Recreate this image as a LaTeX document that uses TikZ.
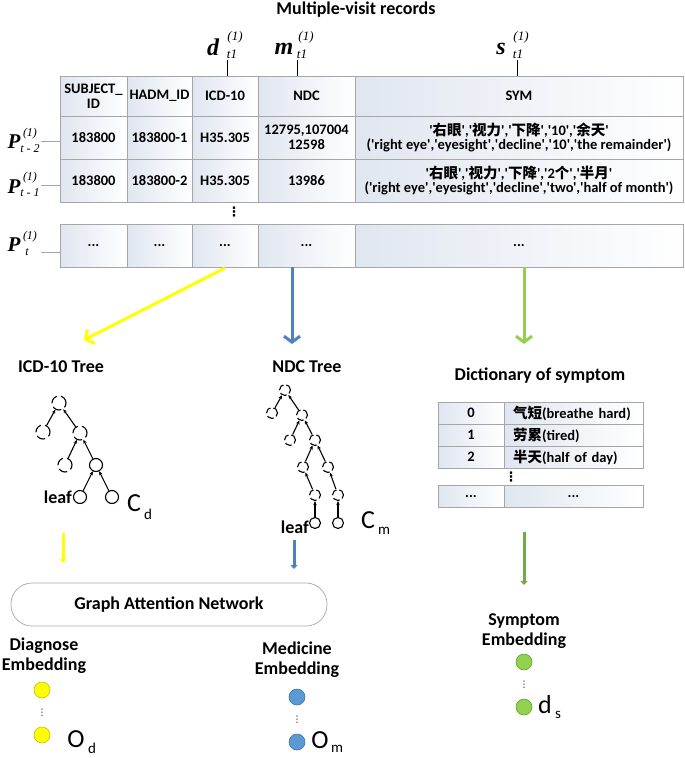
\documentclass[tikz,border=0pt]{standalone}
\usepackage{fontspec}
\setmainfont{Carlito}[Ligatures=TeXOff]
\newfontfamily\tnr{Liberation Serif}
\newfontfamily\cjk{Noto Sans CJK SC}
\newfontfamily\dejavu{DejaVu Sans}
\usetikzlibrary{arrows.meta,calc}
\definecolor{cellblue}{RGB}{224,230,240}
\definecolor{bordergray}{RGB}{166,166,166}
\definecolor{ayellow}{RGB}{255,255,0}
\definecolor{ablue}{RGB}{79,129,189}
\definecolor{agreen}{RGB}{146,208,80}
\definecolor{agreendark}{RGB}{112,173,71}
\definecolor{cyellowdraw}{RGB}{190,190,0}
\definecolor{cblue}{RGB}{91,155,213}
\definecolor{cbluedraw}{RGB}{65,113,156}
\definecolor{cgreendraw}{RGB}{100,160,50}
\newcommand\zh[1]{{\cjk #1}}
\newcommand\fs[1]{\fontsize{#1}{#1}\selectfont}
\begin{document}
\begin{tikzpicture}[x=1pt,y=-1pt,
  cell/.style={draw=bordergray,line width=0.7pt,left color=cellblue,right color=white,
     inner sep=0pt,align=center,font=\fs{14.5}\bfseries},
  title/.style={font=\fs{18}\bfseries,inner sep=0pt,align=center},
  mainvar/.style={inner sep=0pt,font=\fs{24}\tnr\bfseries\itshape},
  pvar/.style={inner sep=0pt,font=\fs{21}\tnr\bfseries\itshape},
  scr/.style={inner sep=0pt,font=\fs{13}\tnr\itshape},
  pscr/.style={inner sep=0pt,font=\fs{12}\tnr\itshape},
  dnode/.style={circle,draw,line width=1.1pt,dash pattern=on 9pt off 4pt,inner sep=0pt},
  snode/.style={circle,draw,line width=1.1pt,inner sep=0pt},
  tedge/.style={line width=1.1pt,-{Stealth[length=4pt,width=3.5pt]}},
  emb/.style={circle,inner sep=0pt,minimum size=16pt,line width=0.6pt},
  vdt/.style={inner sep=0pt,font=\fs{9}\dejavu},
  tvdt/.style={inner sep=0pt,font=\fs{13}\dejavu\bfseries},
  bigsym/.style={inner sep=0pt,font=\fs{26}},
  subsym/.style={inner sep=0pt,font=\fs{15}},
]
\useasboundingbox (0,0) rectangle (685,758);

% title
\node[title] (ttl) at (356,10) {Multiple-visit records};

% labels d m s
\node[mainvar] (dv) at (213,47) {d};
\node[scr] (dsup) at (235,37) {(1)};
\node[scr] (dsub) at (232,54) {t1};
\node[mainvar] (mv) at (284,49) {m};
\node[scr] (msup) at (306,37) {(1)};
\node[scr] (msub) at (302,54) {t1};
\node[mainvar] (sv) at (501,49) {s};
\node[scr] (ssup) at (521,37) {(1)};
\node[scr] (ssub) at (518,54) {t1};

% table header (y 76-116)
\node[cell,minimum width=67,minimum height=40] (c01) at (93.5,96) {SUBJECT\_\\ID};
\node[cell,minimum width=65,minimum height=40] (c02) at (159.5,96) {HADM\_ID};
\node[cell,minimum width=66,minimum height=40] (c03) at (225,96) {ICD-10};
\node[cell,minimum width=97,minimum height=40] (c04) at (306.5,96) {NDC};
\node[cell,minimum width=328,minimum height=40] (c05) at (519,96) {SYM};
% row 1 (116-159)
\node[cell,minimum width=67,minimum height=43] (c11) at (93.5,137.5) {183800};
\node[cell,minimum width=65,minimum height=43] (c12) at (159.5,137.5) {183800-1};
\node[cell,minimum width=66,minimum height=43] (c13) at (225,137.5) {H35.305};
\node[cell,minimum width=97,minimum height=43] (c14) at (306.5,137.5) {12795,107004\\12598};
\node[cell,minimum width=328,minimum height=43] (c15) at (519,137.5) {'\zh{右眼}','\zh{视力}','\zh{下降}','10','\zh{余天}'\\('right eye','eyesight','decline','10','the remainder')};
% row 2 (159-202)
\node[cell,minimum width=67,minimum height=43] (c21) at (93.5,180.5) {183800};
\node[cell,minimum width=65,minimum height=43] (c22) at (159.5,180.5) {183800-2};
\node[cell,minimum width=66,minimum height=43] (c23) at (225,180.5) {H35.305};
\node[cell,minimum width=97,minimum height=43] (c24) at (306.5,180.5) {13986};
\node[cell,minimum width=328,minimum height=43] (c25) at (519,180.5) {'\zh{右眼}','\zh{视力}','\zh{下降}','2\zh{个}','\zh{半月}'\\('right eye','eyesight','decline','two','half of month')};
% dots
\node[tvdt] (tdots) at (234,212) {⋮};
% last row (224-267)
\node[cell,minimum width=67,minimum height=43] (c31) at (93.5,245.5) {...};
\node[cell,minimum width=65,minimum height=43] (c32) at (159.5,245.5) {...};
\node[cell,minimum width=66,minimum height=43] (c33) at (225,245.5) {...};
\node[cell,minimum width=97,minimum height=43] (c34) at (306.5,245.5) {...};
\node[cell,minimum width=328,minimum height=43] (c35) at (519,245.5) {...};

% label connectors
\coordinate (dtop) at (227,60);
\coordinate (mtop) at (297,60);
\coordinate (stop) at (517,60);
\draw[line width=0.5pt] (c03.north -| dtop) -- (dtop);
\draw[line width=0.5pt] (c04.north -| mtop) -- (mtop);
\draw[line width=0.5pt] (c05.north -| stop) -- (stop);

% P labels
\node[pvar] (p1) at (14,142) {P};
\node[pscr] (p1sup) at (30,134) {(1)};
\node[pscr] (p1sub) at (30,149) {t - 2};
\node[pvar] (p2) at (14,187) {P};
\node[pscr] (p2sup) at (30,178) {(1)};
\node[pscr] (p2sub) at (30,193) {t - 1};
\node[pvar] (p3) at (14,245) {P};
\node[pscr] (p3sup) at (30,237) {(1)};
\node[pscr] (p3sub) at (27,252) {t};
\coordinate (pl1) at (41,141);
\coordinate (pl2) at (41,185);
\coordinate (pl3) at (41,252);
\draw[bordergray,line width=0.6pt] (pl1) -- (pl1 -| c11.west);
\draw[bordergray,line width=0.6pt] (pl2) -- (pl2 -| c21.west);
\draw[bordergray,line width=0.6pt] (pl3) -- (pl3 -| c31.west);

% big arrows
\coordinate (ys) at (225,268);
\coordinate (ye) at (84,340);
\coordinate (be) at (292,344);
\coordinate (ge) at (524,344);
\draw[ayellow,line width=3pt,-{Straight Barb[length=6pt,width=16pt]}] (ys) -- (ye);
\draw[ablue,line width=3pt,-{Straight Barb[length=6pt,width=16pt]}] (c34.south -| be) -- (be);
\draw[agreen,line width=3pt,-{Straight Barb[length=6pt,width=16pt]}] (c35.south -| ge) -- (ge);

% section titles
\node[title] (icdt) at (61,367) {ICD-10 Tree};
\node[title] (ndct) at (307,367) {NDC Tree};
\node[title] (dict) at (540,376) {Dictionary of symptom};

% ICD tree
\node[dnode,minimum size=14pt] (n1) at (59,403) {};
\node[dnode,minimum size=14pt] (n2) at (43,432) {};
\node[dnode,minimum size=14pt] (n3) at (80,433) {};
\node[dnode,minimum size=14pt] (n4) at (65,465) {};
\node[snode,minimum size=13pt] (n5) at (96,465) {};
\node[snode,minimum size=13pt] (n6) at (80,497) {};
\node[snode,minimum size=13pt] (n7) at (112,497) {};
\draw[tedge] (n2) -- (n1);
\draw[tedge] (n3) -- (n1);
\draw[tedge] (n4) -- (n3);
\draw[tedge] (n5) -- (n3);
\draw[tedge] (n6) -- (n5);
\draw[tedge] (n7) -- (n5);
\node[title,anchor=east] (leafd) at (72,497) {leaf};
\node[bigsym] (cdv) at (134,503) {C};
\node[subsym] (cds) at (148,514) {d};

% NDC tree
\node[dnode,minimum size=11pt,dash pattern=on 7pt off 3pt] (a1) at (285,390) {};
\node[dnode,minimum size=11pt,dash pattern=on 7pt off 3pt] (a2) at (272,413) {};
\node[dnode,minimum size=11pt,dash pattern=on 7pt off 3pt] (a3) at (302,415) {};
\node[dnode,minimum size=11pt,dash pattern=on 7pt off 3pt] (a4) at (290,440) {};
\node[dnode,minimum size=11pt,dash pattern=on 7pt off 3pt] (a5) at (315,440) {};
\node[dnode,minimum size=11pt,dash pattern=on 7pt off 3pt] (a6) at (303,467) {};
\node[dnode,minimum size=11pt,dash pattern=on 7pt off 3pt] (a7) at (328,467) {};
\node[dnode,minimum size=11pt,dash pattern=on 7pt off 3pt] (a8) at (315,495) {};
\node[dnode,minimum size=11pt,dash pattern=on 7pt off 3pt] (a9) at (338,495) {};
\node[snode,minimum size=11pt] (a10) at (315,523) {};
\node[snode,minimum size=11pt] (a11) at (338,523) {};
\draw[tedge] (a2) -- (a1);
\draw[tedge] (a3) -- (a1);
\draw[tedge] (a4) -- (a3);
\draw[tedge] (a5) -- (a3);
\draw[tedge] (a6) -- (a5);
\draw[tedge] (a7) -- (a5);
\draw[tedge] (a8) -- (a6);
\draw[tedge] (a9) -- (a7);
\draw[tedge] (a10) -- (a8);
\draw[tedge] (a11) -- (a9);
\node[title,anchor=east] (leafm) at (309,527) {leaf};
\node[bigsym] (cmv) at (368,520) {C};
\node[subsym] (cms) at (384,531) {m};

% dictionary table
\node[cell,minimum width=66,minimum height=22] (d01) at (471,413) {0};
\node[cell,minimum width=139,minimum height=22,text width=121,inner xsep=9pt,align=left] (d02) at (573.5,413) {\zh{气短}(breathe hard)};
\node[cell,minimum width=66,minimum height=22] (d11) at (471,435) {1};
\node[cell,minimum width=139,minimum height=22,text width=121,inner xsep=9pt,align=left] (d12) at (573.5,435) {\zh{劳累}(tired)};
\node[cell,minimum width=66,minimum height=22] (d21) at (471,457) {2};
\node[cell,minimum width=139,minimum height=22,text width=121,inner xsep=9pt,align=left] (d22) at (573.5,457) {\zh{半天}(half of day)};
\node[tvdt] (ddots) at (511,477) {⋮};
\node[cell,minimum width=66,minimum height=22] (d31) at (471,496.5) {...};
\node[cell,minimum width=139,minimum height=22] (d32) at (573.5,496.5) {...};

% small arrows
\coordinate (sy1) at (63,533);
\coordinate (sy2) at (63,563);
\coordinate (sb1) at (294,540);
\coordinate (sb2) at (294,569);
\coordinate (sg1) at (524,532);
\coordinate (sg2) at (524,585);
\draw[ayellow,line width=3pt,-{Triangle[length=4pt,width=7pt]}] (sy1) -- (sy2);
\draw[ablue,line width=3pt,-{Triangle[length=4pt,width=7pt]}] (sb1) -- (sb2);
\draw[agreendark,line width=3pt,-{Triangle[length=4pt,width=7pt]}] (sg1) -- (sg2);

% GAT box
\node[draw=bordergray,line width=0.7pt,rounded corners=21pt,minimum width=316,minimum height=43,
  inner sep=0pt,font=\fs{18}\bfseries] (gat) at (169,604.5) {Graph Attention Network};

% embeddings
\node[title] (demb) at (44,656) {Diagnose\\[2pt]Embedding};
\node[emb,fill=ayellow,draw=cyellowdraw] (y1) at (42,690) {};
\node[vdt] (ydots) at (42,713) {⋮};
\node[emb,fill=ayellow,draw=cyellowdraw] (y2) at (42,735) {};
\node[bigsym] (odv) at (76,739) {O};
\node[subsym] (ods) at (92,748) {d};

\node[title] (memb) at (297,660) {Medicine\\[2pt]Embedding};
\node[emb,fill=cblue,draw=cbluedraw] (b1) at (297,697) {};
\node[vdt] (bdots) at (297,720) {⋮};
\node[emb,fill=cblue,draw=cbluedraw] (b2) at (297,742) {};
\node[bigsym] (omv) at (320,740) {O};
\node[subsym] (oms) at (337,749) {m};

\node[title] (semb) at (524,631) {Symptom\\[2pt]Embedding};
\node[emb,fill=agreen,draw=cgreendraw] (g1) at (524,662) {};
\node[vdt] (gdots) at (524,685) {⋮};
\node[emb,fill=agreen,draw=cgreendraw] (g2) at (524,707) {};
\node[bigsym] (dsv) at (545,705) {d};
\node[subsym] (dss) at (558,715) {s};
\end{tikzpicture}
\end{document}
